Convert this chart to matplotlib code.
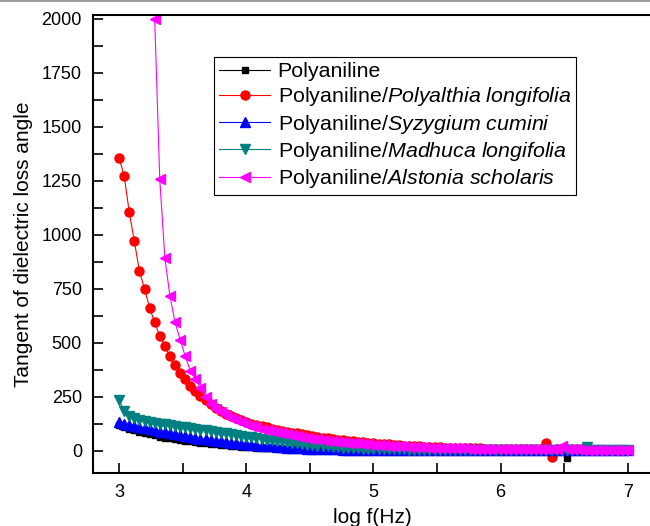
import numpy as np
import matplotlib
matplotlib.use("Agg")
import matplotlib.pyplot as plt
from matplotlib.lines import Line2D
from matplotlib.ticker import MultipleLocator

plt.rcParams['font.family'] = ['Liberation Sans', 'DejaVu Sans']
plt.rcParams['font.size'] = 12.5
plt.rcParams['mathtext.fontset'] = 'custom'
plt.rcParams['mathtext.it'] = 'Liberation Sans:italic'
plt.rcParams['mathtext.rm'] = 'Liberation Sans'

# measurement grid, log f from 3 to 7 in steps of 0.04
log_f = np.round(np.arange(3.0, 7.001, 0.04), 2)

pani = [118, 110, 102, 95, 88, 82, 76, 71, 66, 61,
        57, 53, 49, 46, 43, 40, 37, 34, 32, 29,
        27, 25, 23, 21, 19, 18, 16, 15, 14, 13,
        12, 11, 10, 9, 8, 7, 7, 6, 6, 5,
        5, 4, 4, 4, 3, 3, 3, 3, 2, 2,
        2, 2, 2, 2, 2, 2, 2, 2, 2, 2,
        2, 2, 2, 2, 2, 2, 2, 2, 2, 2,
        2, 2, 2, 2, 2, 2, 2, 2, 2, 2,
        2, 2, 2, 2, 2, 2, 2, 2, -32, 2,
        2, 2, 2, 2, 2, 2, 2, 2, 2, 2, 2]

polyalthia = [1358, 1273, 1106, 970, 832, 750, 662, 595, 530, 484,
              438, 397, 359, 333, 302, 278, 255, 234, 215, 198,
              184, 171, 160, 150, 141, 133, 126, 120, 114, 108,
              102, 97, 92, 88, 84, 80, 76, 72, 68, 64,
              61, 58, 55, 52, 49, 46, 44, 41, 39, 37,
              35, 33, 31, 29, 27, 25, 24, 22, 21, 20,
              19, 18, 17, 16, 15, 14, 14, 13, 12, 12,
              11, 11, 10, 10, 10, 9, 9, 9, 8, 8,
              8, 8, 7, 7, 38, -30, 7, 6, 6, 6,
              6, 6, 6, 5, 5, 5, 5, 5, 5, 5, 5]

syzygium = [132, 126, 120, 114, 109, 104, 99, 94, 89, 85,
            80, 76, 72, 68, 64, 60, 56, 53, 50, 47,
            44, 41, 38, 35, 32, 30, 28, 26, 24, 22,
            20, 18, 16, 15, 13, 12, 11, 10, 9, 8,
            7, 7, 6, 6, 5, 5, 5, 4, 4, 4,
            4, 4, 3, 3, 3, 3, 3, 3, 3, 3,
            3, 3, 3, 3, 3, 3, 3, 3, 3, 3,
            3, 3, 3, 3, 3, 3, 3, 3, 3, 3,
            3, 3, 3, 3, 3, 3, 3, 3, 3, 3,
            3, 3, 3, 3, 3, 3, 3, 3, 3, 3, 3]

madhuca = [235, 184, 160, 150, 143, 138, 134, 130, 126, 123,
           119, 115, 112, 108, 105, 101, 98, 94, 90, 87,
           83, 80, 76, 73, 69, 66, 62, 59, 56, 52,
           49, 46, 43, 40, 37, 34, 31, 28, 26, 24,
           22, 20, 18, 16, 14, 13, 12, 11, 10, 9,
           8, 8, 7, 7, 6, 6, 6, 5, 5, 5,
           5, 4, 4, 4, 4, 4, 4, 4, 4, 4,
           4, 4, 4, 4, 4, 4, 4, 4, 4, 4,
           4, 4, 4, 4, 4, 4, 4, 4, 4, 4,
           4, 4, 18, 4, 4, 4, 4, 4, 4, 4, 4]

# first points are far above the plotted range
alstonia = [np.nan, np.nan, np.nan, np.nan, np.nan, np.nan, np.nan, 2000, 1257, 892,
            716, 595, 515, 438, 371, 333, 290, 250, 218, 195,
            178, 164, 152, 141, 132, 123, 116, 109, 103, 97,
            91, 86, 81, 76, 71, 67, 63, 59, 56, 53,
            50, 47, 44, 42, 40, 38, 36, 34, 32, 30,
            28, 27, 25, 24, 22, 21, 20, 19, 18, 17,
            16, 15, 14, 14, 13, 12, 12, 11, 11, 10,
            10, 9, 9, 9, 8, 8, 8, 7, 7, 7,
            7, 7, 6, 6, 6, 6, 6, 20, 6, 6,
            6, 5, 5, 5, 5, 5, 5, 5, 5, 5, 5]

fig = plt.figure(figsize=(6.5, 5.26), dpi=100)
ax = fig.add_axes([93 / 650, 53 / 526, 559 / 650, 458 / 526])

ax.plot(log_f, pani, '-s', color='black', lw=0.8, ms=5, label='Polyaniline')
ax.plot(log_f, polyalthia, '-o', color='red', lw=0.8, ms=6.5,
        label='Polyaniline/$\\it{Polyalthia\\ longifolia}$')
ax.plot(log_f, syzygium, '-^', color='blue', lw=0.8, ms=6.5,
        label='Polyaniline/$\\it{Syzygium\\ cumini}$')
ax.plot(log_f, madhuca, '-v', color='#008080', lw=0.8, ms=6.5,
        label='Polyaniline/$\\it{Madhuca\\ longifolia}$')
ax.plot(log_f, alstonia, '-<', color='#FF00FF', lw=0.8, ms=6.5,
        label='Polyaniline/$\\it{Alstonia\\ scholaris}$')

ax.set_xlim(2.795, 7.19)
ax.set_ylim(-103, 2018)
ax.xaxis.set_major_locator(MultipleLocator(1))
ax.xaxis.set_minor_locator(MultipleLocator(0.5))
ax.yaxis.set_major_locator(MultipleLocator(250))
ax.yaxis.set_minor_locator(MultipleLocator(125))
ax.tick_params(which='both', direction='in', length=7, width=1.2, pad=8, labelsize=13)
ax.tick_params(top=False, right=False)
for s in ax.spines.values():
    s.set_linewidth(1.5)

ax.set_xlabel('log f(Hz)', fontsize=15, labelpad=5)
ax.set_ylabel('Tangent of dielectric loss angle', fontsize=15, labelpad=6)

leg = ax.legend(loc='upper left', bbox_to_anchor=(0.2165, 0.909), fancybox=False,
                framealpha=1, edgecolor='black', fontsize=15.4, handlelength=2.35,
                borderpad=0.25, labelspacing=0.2, handletextpad=0.37,
                borderaxespad=0)
leg.get_frame().set_linewidth(0.8)

fig.add_artist(Line2D([0, 1], [1 - 1 / 526, 1 - 1 / 526], color='#888888', lw=1.2))

fig.savefig('out.png', dpi=100)
